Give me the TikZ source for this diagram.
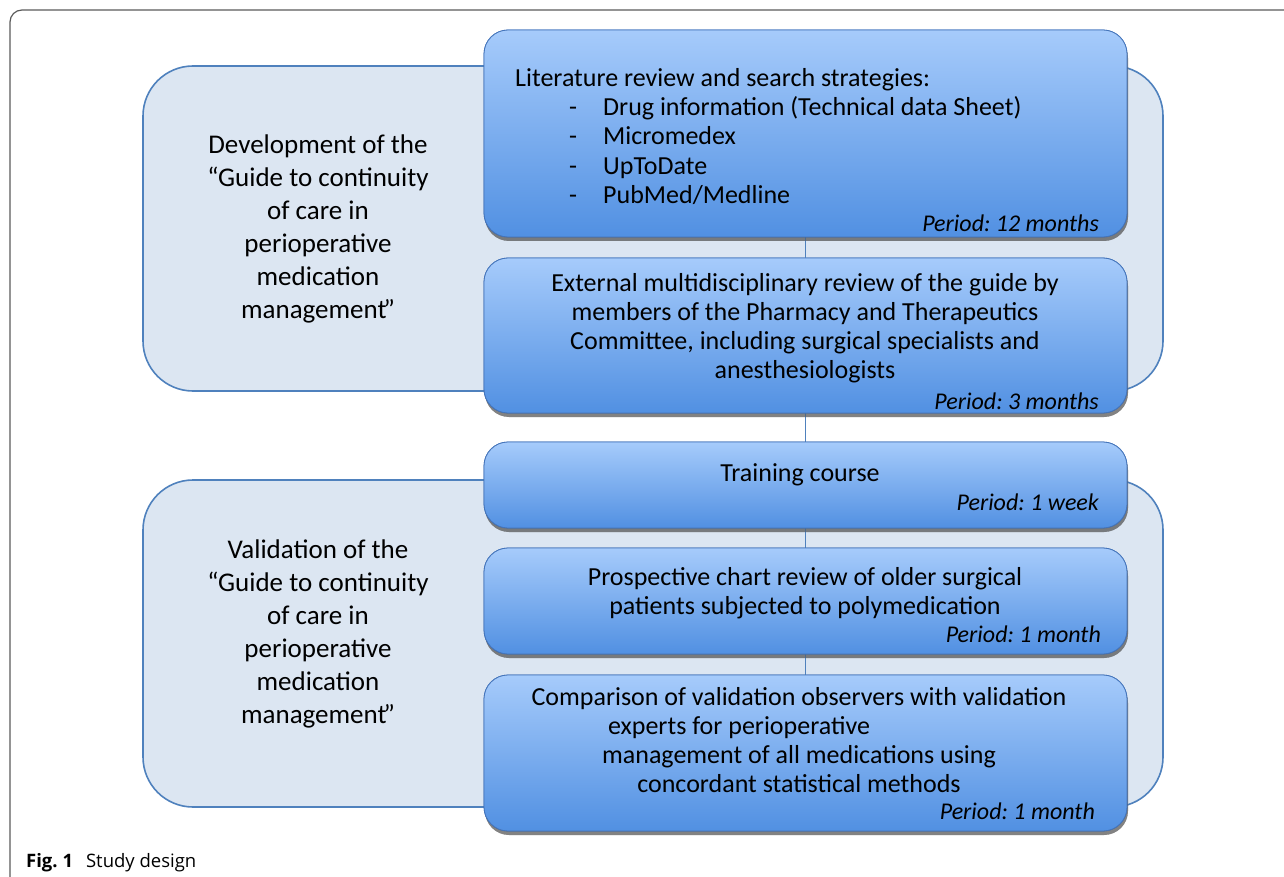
\documentclass[tikz,border=0pt]{standalone}
\usepackage{fontspec}
\setmainfont{Carlito}
\newfontfamily\capfont{Open Sans}
\usetikzlibrary{shadows}
\frenchspacing

\definecolor{panelfill}{HTML}{DCE6F2}
\definecolor{panelline}{HTML}{4F81BD}
\definecolor{boxtop}{HTML}{A6CBFB}
\definecolor{boxbot}{HTML}{5190E2}
\definecolor{boxline}{HTML}{4474BA}
\definecolor{framegray}{HTML}{5A5A5A}

\tikzset{
  panel/.style={draw=panelline, fill=panelfill, line width=1.6pt, rounded corners=50pt},
  stagebox/.style={draw=boxline, line width=0.8pt, rounded corners=24pt,
    top color=boxtop, bottom color=boxbot, minimum width=643pt, inner sep=0pt,
    drop shadow={shadow xshift=1pt, shadow yshift=-4pt, opacity=.45, fill=black!70}},
  link/.style={draw=panelline, line width=1.4pt},
  boxtext/.style={font=\fontsize{26}{29}\selectfont, inner sep=0pt},
  period/.style={font=\fontsize{24}{26}\selectfont\itshape, anchor=east, inner sep=0pt},
  sidetext/.style={font=\fontsize{27}{33}\selectfont, align=center, inner sep=0pt}
}

\begin{document}
\begin{tikzpicture}[x=1pt,y=-1pt]
\useasboundingbox (0,0) rectangle (1284,877);
% frame
\draw[framegray, line width=1.2pt, rounded corners=12pt] (10,880) -- (10,10) -- (1290,10);
\node[anchor=base west, inner sep=0pt, font=\capfont\fontsize{18.5}{20}\selectfont] (caption) at (26,867)
  {\textbf{Fig. 1}\hspace{13pt}Study design};

% phases
\draw[panel] (143,66) rectangle (1163,391);
\draw[panel] (143,480) rectangle (1163,807);
\node[sidetext] (devtext) at (318,229)
  {Development of the\\ “Guide to continuity\\ of care in\\ perioperative\\ medication\\ management\kern-3pt”};
\node[sidetext] (valtext) at (318,634)
  {Validation of the\\ “Guide to continuity\\ of care in\\ perioperative\\ medication\\ management\kern-3pt”};

% steps
\node[stagebox, minimum height=207pt] (lit) at (805.5,133.5) {};
\node[stagebox, minimum height=155pt] (ext) at (805.5,335.5) {};
\node[stagebox, minimum height=86pt] (course) at (805.5,485) {};
\node[stagebox, minimum height=106pt] (chart) at (805.5,601) {};
\node[stagebox, minimum height=156pt] (compare) at (805.5,753) {};

\draw[link] (lit) -- (ext);
\draw[link] (ext) -- (course);
\draw[link] (course) -- (chart);
\draw[link] (chart) -- (compare);
% redraw boxes over the links
\node[stagebox, minimum height=207pt] at (805.5,133.5) {};
\node[stagebox, minimum height=155pt] at (805.5,335.5) {};
\node[stagebox, minimum height=86pt] at (805.5,485) {};
\node[stagebox, minimum height=106pt] at (805.5,601) {};
\node[stagebox, minimum height=156pt] at (805.5,753) {};

\node[boxtext, anchor=base west] (littitle) at (515,87) {Literature review and search strategies:};
\foreach \y/\src [count=\i] in {116/{Drug information (Technical data Sheet)}, 145/Micromedex, 175/UpToDate, 204/{PubMed/Medline}}{
  \node[boxtext, anchor=base west] (dash\i) at (569,\y) {-};
  \node[boxtext, anchor=base west] (src\i) at (603,\y) {\src};
}
\node[period] (litp) at (1099,223) {Period: 12 months};

\node[boxtext, align=center] (exttext) at (805,328.5)
  {External multidisciplinary review of the guide by\\ members of the Pharmacy and Therapeutics\\ Committee, including surgical specialists and\\ anesthesiologists};
\node[period] (extp) at (1099,401) {Period: 3 months};

\node[boxtext] (coursetext) at (800,475) {Training course};
\node[period] (coursep) at (1099,502) {Period: 1 week};

\node[boxtext, align=center] (charttext) at (805,593.5)
  {Prospective chart review of older surgical\\ patients subjected to polymedication};
\node[period] (chartp) at (1101,634) {Period: 1 month};

\node[boxtext, align=center] (comparetext) at (799,740.5)
  {Comparison of validation observers with validation\\ experts for perioperative\hspace*{120pt}\mbox{}\\ management of all medications using\\ concordant statistical methods};
\node[period] (comparep) at (1095,811) {Period: 1 month};
\end{tikzpicture}
\end{document}
